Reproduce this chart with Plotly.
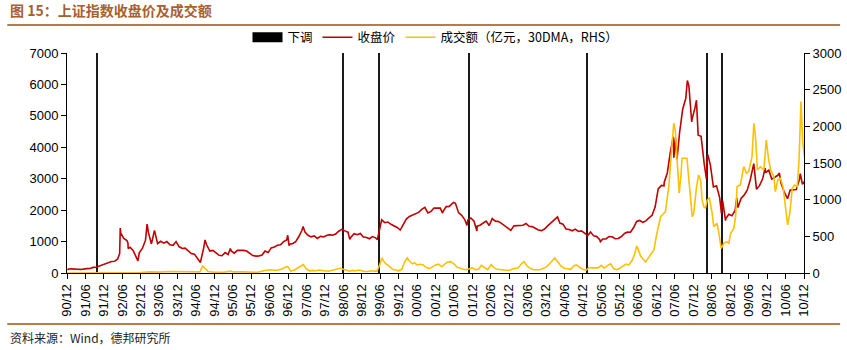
import plotly.graph_objects as go

# 上证指数收盘价（月末及阶段高低点）
idx_dates = [
    "1990-12-19", "1990-12-31",
    "1991-01-31", "1991-02-28", "1991-03-31", "1991-04-30", "1991-05-31", "1991-06-30",
    "1991-07-31", "1991-08-31", "1991-09-30", "1991-10-31", "1991-11-30", "1991-12-31",
    "1992-01-31", "1992-02-29", "1992-03-31", "1992-04-30", "1992-05-20", "1992-05-21",
    "1992-05-26", "1992-05-31", "1992-06-30", "1992-07-31", "1992-08-10", "1992-08-12",
    "1992-08-31", "1992-09-30", "1992-10-31", "1992-11-17", "1992-11-30", "1992-12-31",
    "1993-01-31", "1993-02-16", "1993-02-28", "1993-03-31", "1993-04-30", "1993-05-31",
    "1993-06-30", "1993-07-31", "1993-08-31", "1993-09-30", "1993-10-31", "1993-11-30",
    "1993-12-31",
    "1994-01-31", "1994-02-28", "1994-03-31", "1994-04-30", "1994-05-31", "1994-06-30",
    "1994-07-29", "1994-08-31", "1994-09-13", "1994-09-30", "1994-10-31", "1994-11-30",
    "1994-12-31",
    "1995-01-31", "1995-02-28", "1995-03-31", "1995-04-30", "1995-05-22", "1995-05-31",
    "1995-06-30", "1995-07-31", "1995-08-31", "1995-09-30", "1995-10-31", "1995-11-30",
    "1995-12-31",
    "1996-01-31", "1996-02-29", "1996-03-31", "1996-04-30", "1996-05-31", "1996-06-30",
    "1996-07-31", "1996-08-31", "1996-09-30", "1996-10-31", "1996-11-30", "1996-12-11",
    "1996-12-24", "1996-12-31",
    "1997-01-31", "1997-02-28", "1997-03-31", "1997-04-30", "1997-05-12", "1997-05-31",
    "1997-06-30", "1997-07-31", "1997-08-31", "1997-09-30", "1997-10-31", "1997-11-30",
    "1997-12-31",
    "1998-01-31", "1998-02-28", "1998-03-31", "1998-04-30", "1998-05-31", "1998-06-30",
    "1998-07-31", "1998-08-18", "1998-08-31", "1998-09-30", "1998-10-31", "1998-11-30",
    "1998-12-31",
    "1999-01-31", "1999-02-28", "1999-03-31", "1999-04-30", "1999-05-18", "1999-05-31",
    "1999-06-30", "1999-07-31", "1999-08-31", "1999-09-30", "1999-10-31", "1999-11-30",
    "1999-12-31",
    "2000-01-31", "2000-02-29", "2000-03-31", "2000-04-30", "2000-05-31", "2000-06-30",
    "2000-07-31", "2000-08-31", "2000-09-30", "2000-10-31", "2000-11-30", "2000-12-31",
    "2001-01-31", "2001-02-22", "2001-02-28", "2001-03-31", "2001-04-30", "2001-05-31",
    "2001-06-13", "2001-06-30", "2001-07-31", "2001-08-31", "2001-09-30", "2001-10-22",
    "2001-10-31", "2001-11-30", "2001-12-31",
    "2002-01-29", "2002-01-31", "2002-02-28", "2002-03-31", "2002-04-30", "2002-05-31",
    "2002-06-25", "2002-06-30", "2002-07-31", "2002-08-31", "2002-09-30", "2002-10-31",
    "2002-11-30", "2002-12-31",
    "2003-01-31", "2003-02-28", "2003-03-31", "2003-04-30", "2003-05-31", "2003-06-30",
    "2003-07-31", "2003-08-31", "2003-09-30", "2003-10-31", "2003-11-30", "2003-12-31",
    "2004-01-31", "2004-02-29", "2004-03-31", "2004-04-07", "2004-04-30", "2004-05-31",
    "2004-06-30", "2004-07-31", "2004-08-31", "2004-09-30", "2004-10-31", "2004-11-30",
    "2004-12-31",
    "2005-01-31", "2005-02-28", "2005-03-31", "2005-04-30", "2005-05-31", "2005-06-06",
    "2005-06-30", "2005-07-31", "2005-08-31", "2005-09-30", "2005-10-31", "2005-11-30",
    "2005-12-31",
    "2006-01-31", "2006-02-28", "2006-03-31", "2006-04-30", "2006-05-31", "2006-06-30",
    "2006-07-31", "2006-08-31", "2006-09-30", "2006-10-31", "2006-11-30", "2006-12-31",
    "2007-01-31", "2007-02-27", "2007-02-28", "2007-03-31", "2007-04-30", "2007-05-29",
    "2007-06-04", "2007-06-20", "2007-07-05", "2007-07-31", "2007-08-31", "2007-09-30",
    "2007-10-16", "2007-10-31", "2007-11-28", "2007-11-30", "2007-12-31",
    "2008-01-14", "2008-01-31", "2008-02-29", "2008-03-31", "2008-04-22", "2008-04-30",
    "2008-05-06", "2008-05-31", "2008-06-30", "2008-07-31", "2008-08-31", "2008-09-18",
    "2008-09-30", "2008-10-28", "2008-10-31", "2008-11-30", "2008-12-31",
    "2009-01-31", "2009-02-17", "2009-02-28", "2009-03-31", "2009-04-30", "2009-05-31",
    "2009-06-30", "2009-08-04", "2009-08-31", "2009-09-30", "2009-10-31", "2009-11-24",
    "2009-11-30", "2009-12-31",
    "2010-01-29", "2010-02-28", "2010-03-31", "2010-04-15", "2010-04-30", "2010-05-31",
    "2010-06-30", "2010-07-05", "2010-07-31", "2010-08-31", "2010-09-30", "2010-10-31",
    "2010-11-08", "2010-11-30", "2010-12-15", "2010-12-31",
]
idx_close = [
    100, 128,
    130, 134, 120, 114, 115, 138,
    144, 178, 181, 219, 260, 293,
    313, 365, 372, 446, 617, 1266,
    1429, 1265, 1100, 1030, 960, 781,
    820, 720, 520, 386, 640, 780,
    1045, 1558, 1300, 925, 1358, 935,
    1008, 950, 1000, 900, 880, 1000,
    833,
    780, 790, 700, 620, 600, 470,
    333, 800, 1052, 890, 700, 720,
    648,
    563, 550, 650, 590, 780, 700,
    630, 720, 730, 720, 700, 630,
    555,
    537, 540, 570, 700, 650, 800,
    830, 880, 900, 1000, 1050, 1200,
    870, 917,
    940, 1000, 1160, 1350, 1480, 1300,
    1200, 1150, 1180, 1100, 1170, 1150,
    1194,
    1220, 1200, 1240, 1330, 1390, 1340,
    1300, 1070, 1150, 1250, 1220, 1260,
    1147,
    1130, 1090, 1160, 1120, 1060, 1280,
    1690, 1600, 1620, 1550, 1500, 1450,
    1367,
    1535, 1715, 1800, 1836, 1894, 1928,
    2023, 2090, 1910, 1961, 2070, 2073,
    2065, 1907, 1960, 2112, 2120, 2214,
    2245, 2218, 1920, 1834, 1700, 1514,
    1690, 1750, 1646,
    1339, 1490, 1520, 1600, 1650, 1510,
    1732, 1730, 1650, 1640, 1580, 1500,
    1430, 1357,
    1500, 1510, 1500, 1520, 1576, 1487,
    1476, 1420, 1367, 1348, 1400, 1497,
    1590, 1675, 1740, 1783, 1590, 1555,
    1400, 1387, 1342, 1396, 1320, 1340,
    1266,
    1191, 1306, 1181, 1159, 1060, 998,
    1080, 1083, 1162, 1155, 1092, 1099,
    1161,
    1258, 1299, 1298, 1440, 1641, 1672,
    1612, 1658, 1752, 1837, 2099, 2675,
    2786, 2771, 2881, 3183, 3841, 4335,
    3670, 4300, 3615, 4471, 5218, 5552,
    6124, 5954, 4803, 4871, 5261,
    5497, 4383, 4348, 3472, 2990, 3693,
    3761, 3433, 2736, 2775, 2397, 1895,
    2293, 1664, 1729, 1871, 1821,
    1991, 2389, 2082, 2373, 2477, 2632,
    2959, 3478, 2667, 2779, 2996, 3338,
    3195, 3277,
    2989, 3051, 3109, 3181, 2870, 2592,
    2398, 2363, 2637, 2638, 2656, 2979,
    3159, 2820, 2890, 2808,
]

# 上证成交额 30 日均值（亿元）
vol_dates = [
    "1990-12-15", "1991-06-15", "1991-12-15", "1992-06-15", "1992-12-15",
    "1993-03-15", "1993-06-15", "1993-09-15", "1993-12-15",
    "1994-03-15", "1994-06-15", "1994-07-25", "1994-08-20", "1994-09-15", "1994-10-15",
    "1994-12-15",
    "1995-03-15", "1995-05-25", "1995-06-15", "1995-09-15", "1995-12-15",
    "1996-02-15", "1996-04-15", "1996-06-15", "1996-07-15", "1996-08-15", "1996-09-15",
    "1996-10-15", "1996-11-15", "1996-12-10",
    "1997-01-10", "1997-02-15", "1997-03-15", "1997-04-15", "1997-05-15", "1997-06-10",
    "1997-07-15", "1997-08-15", "1997-09-15", "1997-10-15", "1997-11-15", "1997-12-15",
    "1998-01-15", "1998-02-15", "1998-03-15", "1998-04-15", "1998-05-15", "1998-06-15",
    "1998-07-15", "1998-08-15", "1998-09-15", "1998-10-15", "1998-11-15", "1998-12-15",
    "1999-01-15", "1999-02-15", "1999-03-15", "1999-04-15", "1999-05-15", "1999-06-10",
    "1999-07-01", "1999-07-20", "1999-08-15", "1999-09-15", "1999-10-15", "1999-11-15",
    "1999-12-15",
    "2000-01-15", "2000-02-15", "2000-03-10", "2000-04-01", "2000-05-01", "2000-05-20",
    "2000-06-15", "2000-07-15", "2000-08-15", "2000-09-15", "2000-10-15", "2000-11-15",
    "2000-12-15",
    "2001-01-15", "2001-02-15", "2001-03-15", "2001-04-15", "2001-05-15", "2001-06-15",
    "2001-07-15", "2001-08-15", "2001-09-15", "2001-10-15", "2001-11-15", "2001-12-15",
    "2002-01-15", "2002-02-15", "2002-03-15", "2002-04-15", "2002-05-15", "2002-06-20",
    "2002-07-15", "2002-08-15", "2002-09-15", "2002-10-15", "2002-11-15", "2002-12-15",
    "2003-01-15", "2003-02-15", "2003-03-15", "2003-04-15", "2003-05-10", "2003-06-10",
    "2003-07-15", "2003-08-15", "2003-09-15", "2003-10-15", "2003-11-15", "2003-12-15",
    "2004-01-15", "2004-02-15", "2004-03-10", "2004-04-10", "2004-05-15", "2004-06-15",
    "2004-07-15", "2004-08-15", "2004-09-15", "2004-10-10", "2004-11-15", "2004-12-15",
    "2005-01-15", "2005-02-15", "2005-03-15", "2005-04-15", "2005-05-15", "2005-06-15",
    "2005-07-15", "2005-08-15", "2005-09-15", "2005-10-15", "2005-11-15", "2005-12-15",
    "2006-01-15", "2006-02-15", "2006-03-15", "2006-04-15", "2006-05-10", "2006-06-01",
    "2006-07-10", "2006-08-27", "2006-10-01", "2006-11-18", "2006-12-15",
    "2007-01-24", "2007-03-12", "2007-04-15", "2007-05-18", "2007-06-03", "2007-06-18",
    "2007-07-06", "2007-07-27", "2007-08-15", "2007-08-24", "2007-10-12", "2007-10-30",
    "2007-11-15", "2007-12-03", "2007-12-18",
    "2008-01-15", "2008-02-05", "2008-02-24", "2008-03-10", "2008-03-27", "2008-04-12",
    "2008-04-30", "2008-05-21", "2008-06-18", "2008-07-03", "2008-07-21", "2008-08-05",
    "2008-08-24", "2008-09-15", "2008-10-12", "2008-11-08", "2008-11-30", "2008-12-18",
    "2009-01-18", "2009-02-05", "2009-02-20", "2009-03-24", "2009-04-27", "2009-05-24",
    "2009-06-15", "2009-07-18", "2009-08-05", "2009-08-21", "2009-09-09", "2009-10-09",
    "2009-11-12", "2009-12-06", "2009-12-30",
    "2010-01-18", "2010-02-20", "2010-03-06", "2010-03-30", "2010-04-24", "2010-05-21",
    "2010-06-12", "2010-07-06", "2010-07-27", "2010-08-21", "2010-09-12", "2010-10-09",
    "2010-10-27", "2010-11-15", "2010-12-03", "2010-12-24",
]
vol_30dma = [
    0, 1, 2, 5, 5,
    15, 12, 20, 18,
    12, 10, 15, 95, 60, 20,
    10,
    10, 25, 15, 15, 8,
    10, 30, 45, 40, 35, 45,
    55, 80, 90,
    25, 40, 65, 90, 115, 60,
    30, 35, 30, 40, 35, 30,
    25, 35, 45, 55, 65, 50,
    40, 25, 35, 30, 40, 25,
    20, 20, 30, 25, 25, 110,
    205, 160, 120, 90, 50, 40,
    30,
    50, 160, 205, 160, 125, 140,
    110, 120, 110, 75, 60, 85,
    110,
    120, 85, 120, 150, 155, 125,
    80, 60, 50, 45, 60, 70,
    45, 50, 105, 80, 45, 115,
    75, 50, 45, 40, 40, 35,
    55, 65, 70, 125, 155, 95,
    60, 45, 40, 45, 60, 80,
    120, 175, 205, 150, 90, 65,
    55, 50, 95, 110, 75, 50,
    40, 75, 70, 65, 70, 105,
    65, 100, 125, 60, 45, 65,
    95, 120, 110, 170, 250, 370,
    230, 150, 220, 314, 520,
    768, 836, 1178, 1769, 2042, 1950,
    1541, 1087, 1360, 1564, 1564, 1314,
    996, 768, 814,
    1178, 1337, 1268, 996, 905, 882,
    996, 1019, 814, 632, 655, 677,
    541, 336, 405, 427, 405, 541,
    609, 768, 1178, 1200, 1450, 1360,
    1382, 1587, 2042, 1860, 1405, 1450,
    1405, 1814, 1541,
    1405, 1314, 1109, 1268, 1291, 1178,
    905, 655, 814, 1155, 1200, 1178,
    1541, 2337, 1769, 1541,
]

# 印花税下调日期
cut_dates = ["1991-10-10", "1998-06-12", "1999-06-01", "2001-11-16",
             "2005-01-24", "2008-04-24", "2008-09-19"]
cut_height = [7000] * len(cut_dates)

# 横轴刻度（每半年）
tick_dates = [f"{y}-{m:02d}-15" for y in range(1990, 2011) for m in (6, 12)][1:]
tick_text = [f"{str(y)[2:]}/{m:02d}" for y in range(1990, 2011) for m in (6, 12)][1:]

RED = "#C00000"
GOLD = "#FFC000"
BROWN = "#B97A4A"
LATIN = "Liberation Sans, Arial, Noto Sans CJK SC"
CJK = "Noto Sans CJK SC, Liberation Sans"

fig = go.Figure()

fig.add_trace(go.Bar(
    x=cut_dates, y=cut_height, width=[10 * 86400000] * len(cut_dates),
    marker=dict(color="#1a1a1a", line=dict(width=0)),
    name="下调", legendgroup="cut", showlegend=False, yaxis="y",
))
fig.add_trace(go.Scatter(
    x=[None], y=[None], mode="lines", line=dict(color="#000000", width=10),
    name="下调", legendgroup="cut",
))
fig.add_trace(go.Scatter(
    x=idx_dates, y=idx_close, mode="lines", line=dict(color=RED, width=1.6),
    name="收盘价", yaxis="y",
))
fig.add_trace(go.Scatter(
    x=vol_dates, y=vol_30dma, mode="lines", line=dict(color=GOLD, width=1.6),
    name="成交额（亿元，30DMA，RHS）", yaxis="y2",
))

fig.update_layout(
    width=847, height=350,
    margin=dict(l=67, r=43, t=53, b=77),
    paper_bgcolor="white", plot_bgcolor="white",
    font=dict(family=LATIN, size=13, color="#000000"),
    bargap=0,
    xaxis=dict(
        type="date", range=["1990-12-15", "2010-12-15"], automargin=False,
        tickmode="array", tickvals=tick_dates, ticktext=tick_text,
        tickangle=-90, ticks="outside", ticklen=5, tickcolor="#000",
        showline=True, linecolor="#000", linewidth=1,
        showgrid=False, zeroline=False,
        tickfont=dict(family=LATIN, size=13),
    ),
    yaxis=dict(
        range=[0, 7000], dtick=1000, ticks="outside", ticklen=5, tickcolor="#000",
        showline=True, linecolor="#000", linewidth=1, automargin=False,
        showgrid=False, zeroline=False, tickfont=dict(family=LATIN, size=13),
    ),
    yaxis2=dict(
        range=[0, 3000], dtick=500, overlaying="y", side="right",
        ticks="outside", ticklen=5, tickcolor="#000", automargin=False,
        showline=True, linecolor="#000", linewidth=1,
        showgrid=False, zeroline=False, tickfont=dict(family=LATIN, size=13),
    ),
    legend=dict(
        orientation="h", x=0.5, xanchor="center", y=1.07, yanchor="middle",
        font=dict(family=CJK, size=12.5, color="#000"),
        bgcolor="rgba(0,0,0,0)", itemwidth=30, tracegroupgap=0,
    ),
    showlegend=True,
)

# 标题、上下分隔线与资料来源
fig.add_annotation(
    text="<b>图 15：上证指数收盘价及成交额</b>", xref="paper", yref="paper",
    x=-0.080, y=1.195, xanchor="left", yanchor="middle", showarrow=False,
    font=dict(family=CJK, size=14, color="#A8602E"),
)
fig.add_shape(type="line", xref="paper", yref="paper",
              x0=-0.081, x1=1.049, y0=1.127, y1=1.127,
              line=dict(color=BROWN, width=2))
fig.add_shape(type="line", xref="paper", yref="paper",
              x0=-0.081, x1=1.049, y0=-0.232, y1=-0.232,
              line=dict(color=BROWN, width=2))
fig.add_annotation(
    text="资料来源：Wind，德邦研究所", xref="paper", yref="paper",
    x=-0.080, y=-0.295, xanchor="left", yanchor="middle", showarrow=False,
    font=dict(family=CJK, size=12, color="#222"),
)

fig.write_html("out.html")
